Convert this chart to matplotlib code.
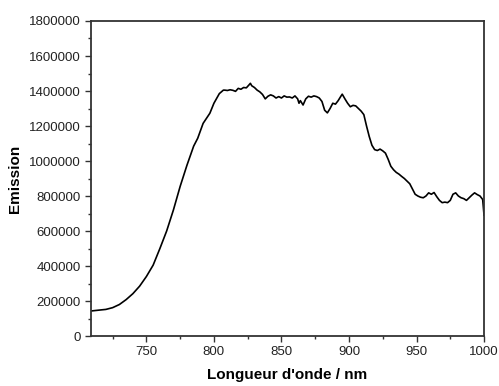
"""
Emission spectrum, Longueur d'onde 709-1000 nm.
"""

import matplotlib.pyplot as plt
from matplotlib.ticker import MultipleLocator

# Data
# ----------------------------------------------------------------------------

wavelength = [709, 715, 720, 725, 730, 735, 740, 745, 750, 755, 760, 765, 770,
              775, 780, 785, 788, 792, 797, 800, 804, 807, 808, 810, 812, 814,
              816, 818, 820, 822, 824, 826, 827, 828, 830, 832, 834, 836, 838,
              840, 842, 844, 846, 848, 850, 852, 854, 856, 858, 860, 862, 863,
              864, 866, 868, 870, 872, 874, 876, 878, 880, 882, 884, 886, 888,
              890, 892, 894, 895, 897, 899, 901, 903, 905, 907, 909, 911, 913,
              915, 917, 919, 921, 923, 925, 927, 929, 931, 933, 935, 937, 939,
              941, 943, 945, 947, 949, 951, 953, 955, 957, 959, 961, 963, 965,
              967, 969, 971, 973, 975, 977, 979, 981, 983, 985, 987, 989, 991,
              993, 995, 997, 999, 1000]

emission = [143000, 148000, 152000, 162000, 180000, 208000, 242000, 285000,
            340000, 405000, 500000, 600000, 720000, 855000, 975000, 1085000,
            1130000, 1215000, 1273000, 1330000, 1385000, 1405000, 1405000,
            1403000, 1407000, 1404000, 1398000, 1415000, 1410000, 1420000,
            1418000, 1435000, 1444000, 1430000, 1420000, 1405000, 1395000,
            1380000, 1355000, 1370000, 1378000, 1372000, 1360000, 1368000,
            1360000, 1372000, 1365000, 1366000, 1360000, 1372000, 1355000,
            1330000, 1345000, 1320000, 1355000, 1370000, 1365000, 1372000,
            1368000, 1360000, 1340000, 1290000, 1275000, 1300000, 1330000,
            1325000, 1345000, 1370000, 1382000, 1355000, 1330000, 1310000,
            1318000, 1315000, 1300000, 1285000, 1265000, 1200000, 1140000,
            1090000, 1065000, 1060000, 1068000, 1058000, 1045000, 1010000,
            970000, 950000, 935000, 925000, 912000, 900000, 885000, 870000,
            840000, 810000, 800000, 793000, 790000, 800000, 818000, 810000,
            820000, 796000, 775000, 762000, 765000, 762000, 775000, 810000,
            818000, 800000, 790000, 785000, 775000, 790000, 805000, 818000,
            808000, 800000, 780000, 690000]

# Plot
# ----------------------------------------------------------------------------

plt.rcParams['font.family'] = ['Liberation Sans', 'DejaVu Sans']

fig = plt.figure(figsize=(4.99, 3.86), dpi=100)
ax = fig.add_axes([0.1824, 0.1295, 0.7876, 0.8161])
ax.plot(wavelength, emission, color='black', lw=1.2)

ax.set_xlim(709, 1000)
ax.set_ylim(0, 1800000)
ax.xaxis.set_major_locator(MultipleLocator(50))
ax.xaxis.set_minor_locator(MultipleLocator(25))
ax.yaxis.set_major_locator(MultipleLocator(200000))
ax.yaxis.set_minor_locator(MultipleLocator(100000))
ax.ticklabel_format(axis='y', style='plain', useOffset=False)
ax.tick_params(which='both', direction='out', top=False, right=False,
               labelsize=9.5, width=1.0, color='#333333', labelcolor='#222222')
ax.tick_params(which='major', length=4)
ax.tick_params(which='minor', length=2.5)
for s in ax.spines.values():
    s.set_linewidth(1.3)
    s.set_color('#333333')

ax.set_xlabel("Longueur d'onde / nm", fontsize=11, fontweight='bold', labelpad=7)
ax.set_ylabel('Emission', fontsize=11, fontweight='bold', labelpad=5)

fig.savefig('out.png', dpi=100)
